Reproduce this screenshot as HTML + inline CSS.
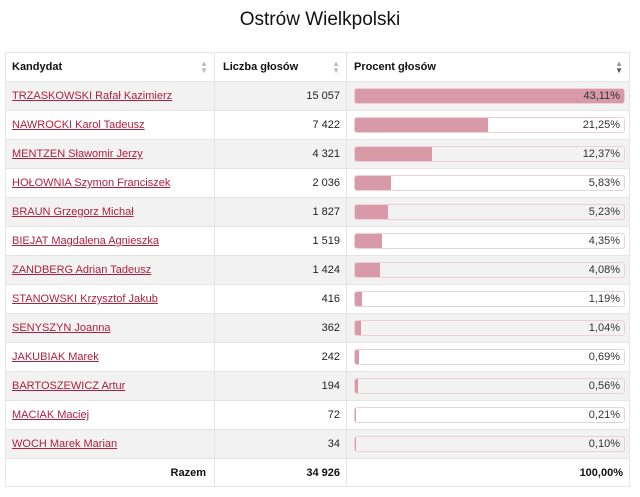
<!DOCTYPE html>
<html><head><meta charset="utf-8"><style>
body{margin:0;width:640px;height:497px;background:#fff;font-family:"Liberation Sans",sans-serif;font-size:11px;color:#222;position:relative;overflow:hidden}
.t{position:absolute;top:9px;left:0;width:640px;text-align:center;font-size:19px;color:#111}
.tbl{position:absolute;left:5px;top:52px;width:625px;border:1px solid #e6e6e6;box-sizing:border-box;height:435px}
.row{position:absolute;left:0;width:623px;height:29px;border-top:1px solid #e4e4e4;box-sizing:border-box}
.c{position:absolute;top:0;height:100%;line-height:28px;box-sizing:border-box}
.c1{left:0;width:209px;padding-left:6px;border-right:1px solid #e4e4e4}
.c2{left:209px;width:132px;padding-right:6px;text-align:right;border-right:1px solid #e4e4e4}
.c3{left:341px;width:282px}
a{color:#b0203f;text-decoration:underline}
.bar{position:absolute;left:7px;top:6px;width:271px;height:16px;border:1px solid #f0d0d8;border-radius:3px;box-sizing:border-box;background:transparent;overflow:hidden}
.f{position:absolute;left:0;top:0;height:100%;background:#d89aa8}
.p{position:absolute;right:4px;top:0;line-height:15px;color:#333}
.g{background:#f2f2f2}
.h{font-weight:bold;color:#111}
.ar{position:absolute;right:6px;top:7px;color:#bbb;font-size:8px;line-height:7px}
</style></head><body>
<div class="t">Ostrów Wielkpolski</div>
<div class="tbl">
<div class="row h" style="top:0;height:28px;border-top:none">
<div class="c c1">Kandydat<span class="ar">▲<br>▼</span></div>
<div class="c c2" style="text-align:left;padding-left:8px">Liczba głosów<span class="ar">▲<br>▼</span></div>
<div class="c c3" style="padding-left:7px">Procent głosów<span class="ar" style="color:#999">▲<br><span style="color:#555">▼</span></span></div>
</div>
<div id="rows"></div>
<div class="row h" style="top:405px;height:29px">
<div class="c c1" style="text-align:right;padding-right:8px">Razem</div>
<div class="c c2">34 926</div>
<div class="c c3" style="text-align:right;padding-right:6px">100,00%</div>
</div>
</div>
<script>
var d=[["TRZASKOWSKI Rafał Kazimierz","15 057",43.11],["NAWROCKI Karol Tadeusz","7 422",21.25],["MENTZEN Sławomir Jerzy","4 321",12.37],["HOŁOWNIA Szymon Franciszek","2 036",5.83],["BRAUN Grzegorz Michał","1 827",5.23],["BIEJAT Magdalena Agnieszka","1 519",4.35],["ZANDBERG Adrian Tadeusz","1 424",4.08],["STANOWSKI Krzysztof Jakub","416",1.19],["SENYSZYN Joanna","362",1.04],["JAKUBIAK Marek","242",0.69],["BARTOSZEWICZ Artur","194",0.56],["MACIAK Maciej","72",0.21],["WOCH Marek Marian","34",0.10]];
var h="";d.forEach(function(r,i){var w=(r[2]/43.11*100).toFixed(2);
h+='<div class="row'+(i%2==0?' g':'')+'" style="top:'+(28+i*29)+'px"><div class="c c1"><a>'+r[0]+'</a></div><div class="c c2">'+r[1]+'</div><div class="c c3"><div class="bar"><div class="f" style="width:'+w+'%"></div><span class="p">'+r[2].toFixed(2).replace(".",",")+'%</span></div></div></div>';});
document.getElementById("rows").outerHTML=h;
</script>
</body></html>
